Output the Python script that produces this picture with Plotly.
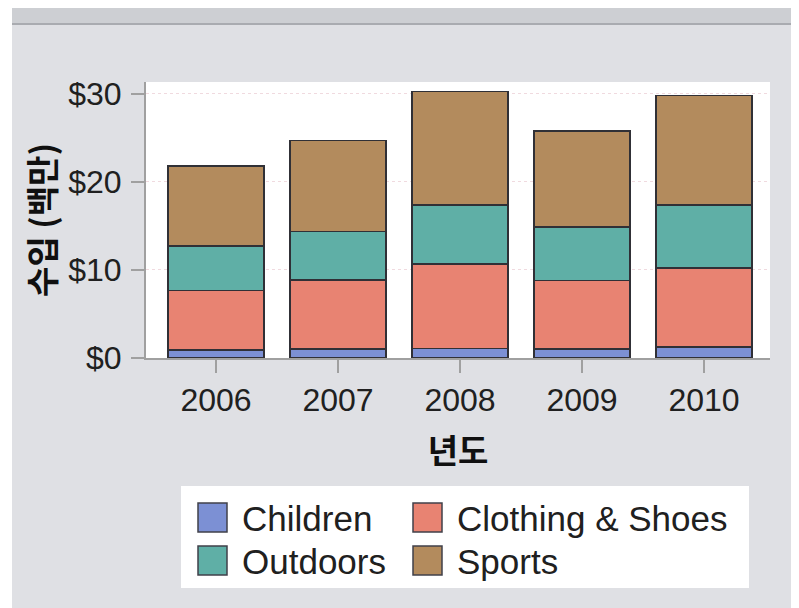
import plotly.graph_objects as go

# ---- data (revenue, millions of dollars) ----
years = ["2006", "2007", "2008", "2009", "2010"]
series_names = ["Children", "Clothing & Shoes", "Outdoors", "Sports"]
children = [0.9, 1.05, 1.1, 1.0, 1.25]
clothing = [6.75, 7.8, 9.6, 7.8, 8.95]
outdoors = [5.05, 5.5, 6.65, 6.1, 7.15]
sports = [9.1, 10.35, 12.9, 10.9, 12.45]
y_tickvals = [0, 10, 20, 30]
y_ticktext = ["$0", "$10", "$20", "$30"]

series_values = [children, clothing, outdoors, sports]
colors = ["#7C90D4", "#E88372", "#5FAFA6", "#B38B5D"]

LATIN = "Liberation Sans, Arial, sans-serif"
KOREAN = "Noto Sans CJK KR, sans-serif"

# page is offset by the 8px body margin; layout numbers below are figure pixels
W, H = 799, 608
L, R, T, B = 138, 37, 74, 258
PW, PH = W - L - R, H - T - B


def fx(x):
    return (x - L) / PW


def fy(y):
    return (H - B - y) / PH


fig = go.Figure()
for name, vals, col in zip(series_names, series_values, colors):
    fig.add_trace(go.Bar(
        x=years, y=vals, name=name, showlegend=False,
        marker=dict(color=col, line=dict(color="#303036", width=1.6)),
    ))

fig.update_layout(
    width=W, height=H,
    barmode="stack", bargap=0.213,
    paper_bgcolor="#DFE0E4", plot_bgcolor="#FFFFFF",
    margin=dict(l=L, r=R, t=T, b=B, pad=0),
    font=dict(family=LATIN, size=32, color="#202020"),
)
fig.update_xaxes(
    type="category", range=[-0.574, 4.541],
    showline=True, linecolor="#A0A0A0", linewidth=2,
    ticks="outside", ticklen=13, tickcolor="#A0A0A0", tickwidth=2,
    tickfont=dict(family=LATIN, size=32, color="#202020"),
    showgrid=False,
    title=dict(text="<b>년도</b>", font=dict(family=KOREAN, size=33, color="#101010"), standoff=22),
)
fig.update_yaxes(
    range=[0, 31.35],
    tickvals=y_tickvals, ticktext=y_ticktext,
    showline=True, linecolor="#A0A0A0", linewidth=2,
    ticks="outside", ticklen=13, tickcolor="#A0A0A0", tickwidth=2,
    tickfont=dict(family=LATIN, size=32, color="#202020"),
    ticklabelstandoff=3,
    showgrid=True, gridcolor="#F0DADF", gridwidth=1, griddash="dot",
    zeroline=False,
    title=dict(text="<b>수입 (백만)</b>", font=dict(family=KOREAN, size=33, color="#101010"), standoff=3),
)

shapes = []
# window-like frame: left white strip, top band with darker rule
shapes.append(dict(type="rect", xref="paper", yref="paper", x0=fx(0), x1=fx(4),
                   y0=fy(H), y1=fy(0), fillcolor="#FFFFFF", line=dict(width=0), layer="below"))
shapes.append(dict(type="rect", xref="paper", yref="paper", x0=fx(4), x1=fx(W),
                   y0=fy(15), y1=fy(0), fillcolor="#CDCFD3", line=dict(width=0), layer="below"))
shapes.append(dict(type="rect", xref="paper", yref="paper", x0=fx(4), x1=fx(W),
                   y0=fy(17), y1=fy(15), fillcolor="#A9ABB0", line=dict(width=0), layer="below"))

# legend (manual, to match the large swatches)
shapes.append(dict(type="rect", xref="paper", yref="paper", x0=fx(173), x1=fx(741),
                   y0=fy(580), y1=fy(478), fillcolor="#FFFFFF", line=dict(width=0)))
legend_slots = [(190, 495), (405, 495), (190, 538), (405, 538)]
annotations = []
for (sx, sy), name, col in zip(legend_slots, series_names, colors):
    shapes.append(dict(type="rect", xref="paper", yref="paper", x0=fx(sx), x1=fx(sx + 29),
                       y0=fy(sy + 29), y1=fy(sy), fillcolor=col, line=dict(color="#40404A", width=1.5)))
    annotations.append(dict(xref="paper", yref="paper", x=fx(sx + 42), y=fy(sy + 15),
                            xanchor="left", yanchor="middle", text=name, showarrow=False,
                            font=dict(family=LATIN, size=35, color="#202020")))

fig.update_layout(shapes=shapes, annotations=annotations)
fig.write_html("out.html")
